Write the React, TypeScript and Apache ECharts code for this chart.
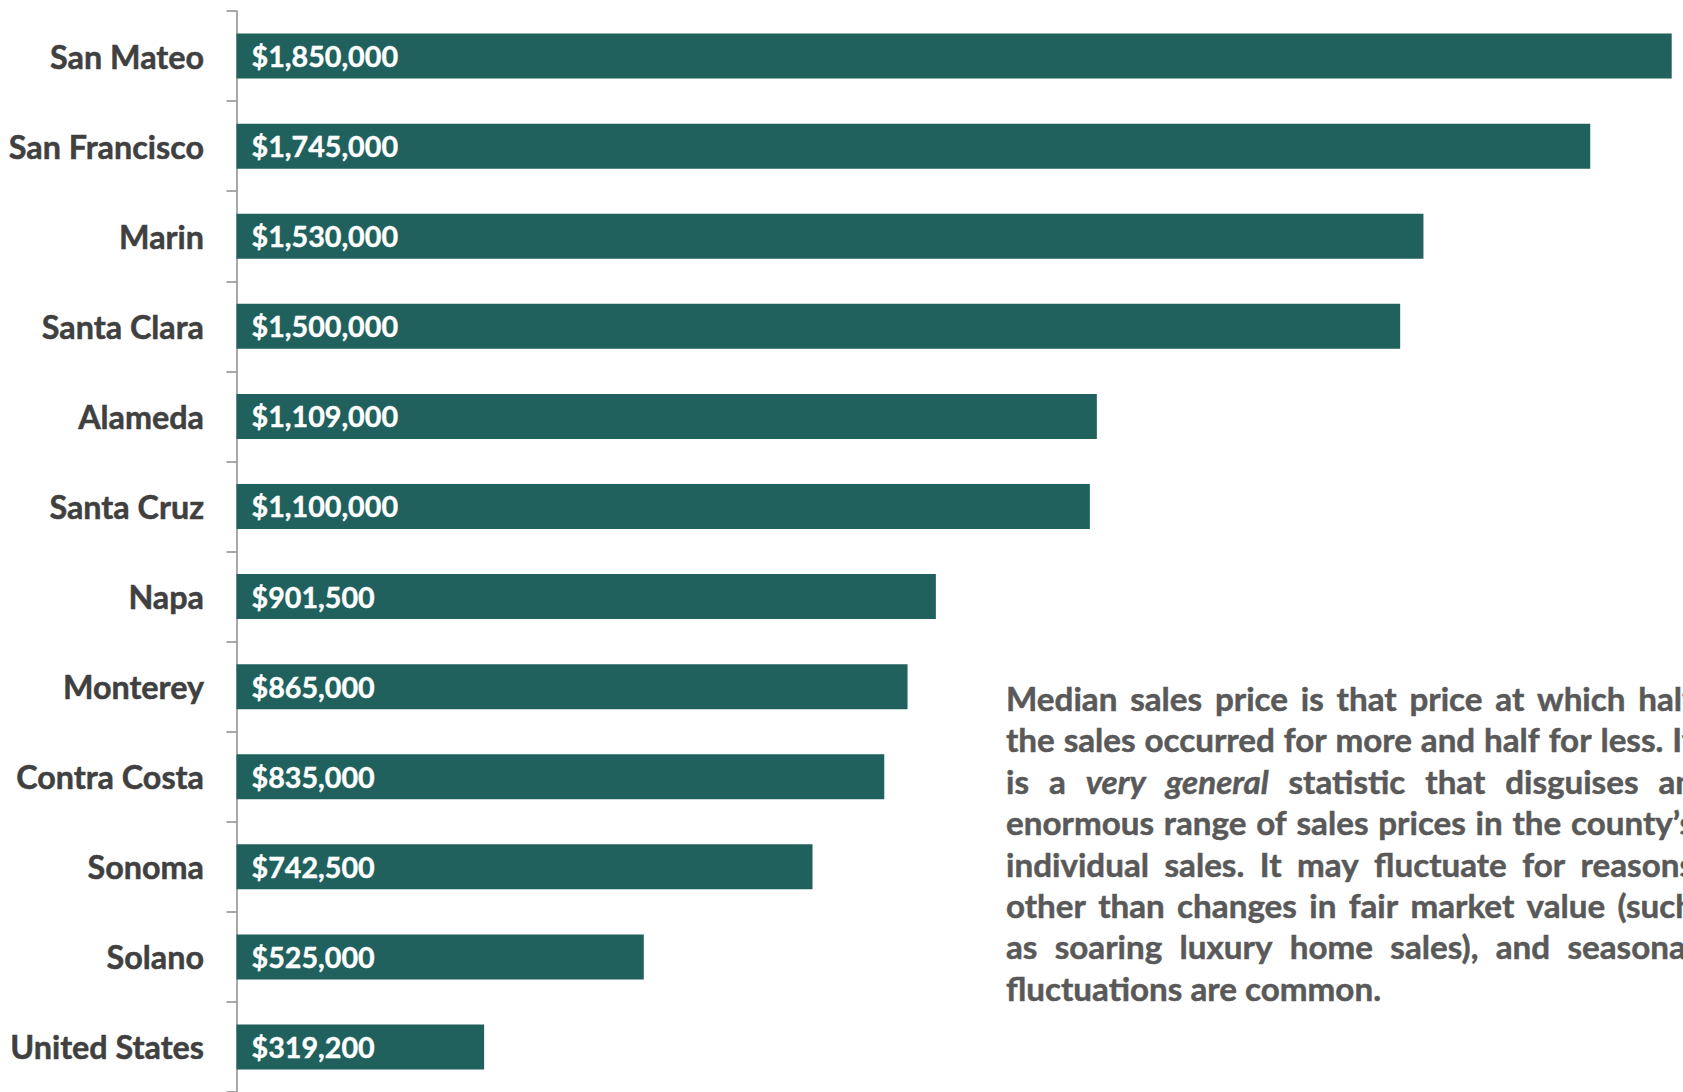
import React, { useEffect, useRef } from "react";
import * as echarts from "echarts";

const categories = [
  "San Mateo",
  "San Francisco",
  "Marin",
  "Santa Clara",
  "Alameda",
  "Santa Cruz",
  "Napa",
  "Monterey",
  "Contra Costa",
  "Sonoma",
  "Solano",
  "United States",
];

const medianPrices = [
  1850000, 1745000, 1530000, 1500000, 1109000, 1100000, 901500, 865000, 835000,
  742500, 525000, 319200,
];

const noteLines = [
  "Median sales price is that price at which half",
  "the sales occurred for more and half for less. It",
  "is a very general statistic that disguises an",
  "enormous range of sales prices in the county\u2019s",
  "individual sales. It may fluctuate for reasons",
  "other than changes in fair market value (such",
  "as soaring luxury home sales), and seasonal",
  "fluctuations are common.",
];

const italicWords = ["very", "general"];

const FONT = "Lato";
const BAR_COLOR = "#20615E";
const LABEL_COLOR = "#404040";
const NOTE_COLOR = "#595959";
const AXIS_COLOR = "#8C8C8C";

const CAT_FS = 32.3;
const VAL_FS = 28.7;
const NOTE_FS = 33.2;

const NOTE_LEFT = 1006;
const NOTE_WIDTH = 688;
const NOTE_TOP = 698;
const NOTE_LINE_H = 41.4;

function formatPrice(v: number) {
  return "$" + v.toLocaleString("en-US");
}

function buildNote() {
  const canvas = document.createElement("canvas");
  const ctx = canvas.getContext("2d")!;
  const measure = (t: string, italic: boolean) => {
    ctx.font = `${italic ? "italic " : ""}bold ${NOTE_FS}px ${FONT}`;
    return ctx.measureText(t).width;
  };
  const els: any[] = [];
  noteLines.forEach((line, i) => {
    const words = line.split(" ");
    const widths = words.map((w) => measure(w, italicWords.includes(w)));
    const total = widths.reduce((a, b) => a + b, 0);
    const last = i === noteLines.length - 1;
    const gap = last
      ? measure(" ", false)
      : (NOTE_WIDTH - total) / Math.max(1, words.length - 1);
    let x = 0;
    words.forEach((w, j) => {
      const it = italicWords.includes(w);
      els.push({
        type: "text",
        x: NOTE_LEFT + x,
        y: NOTE_TOP + i * NOTE_LINE_H,
        silent: true,
        style: {
          text: w,
          fill: NOTE_COLOR,
          stroke: NOTE_COLOR,
          lineWidth: 0.5,
          fontFamily: FONT,
          fontSize: NOTE_FS,
          fontWeight: "bold",
          fontStyle: it ? "italic" : "normal",
          align: "left",
          verticalAlign: "middle",
          textAlign: "left",
          textVerticalAlign: "middle",
        },
      });
      x += widths[j] + gap;
    });
  });
  return els;
}

export default function App() {
  const ref = useRef<HTMLDivElement>(null);
  useEffect(() => {
    if (!ref.current) return;
    const chart = echarts.init(ref.current, null, { renderer: "svg" });
    const bandH = 90.4;
    chart.setOption({
      animation: false,
      backgroundColor: "#ffffff",
      grid: {
        left: 236.5,
        top: 11,
        width: 1435.2,
        height: bandH * categories.length,
        containLabel: false,
      },
      xAxis: {
        type: "value",
        min: 0,
        max: 1850000,
        show: false,
      },
      yAxis: {
        type: "category",
        inverse: true,
        data: categories,
        axisLine: { show: true, lineStyle: { color: AXIS_COLOR, width: 1.5 } },
        axisTick: { show: true, length: 10, lineStyle: { color: AXIS_COLOR, width: 1.5 } },
        axisLabel: {
          margin: 32.5,
          color: LABEL_COLOR,
          fontFamily: FONT,
          fontSize: CAT_FS,
          fontWeight: "bold",
          textBorderColor: LABEL_COLOR,
          textBorderWidth: 0.5,
        },
        splitLine: { show: false },
      },
      series: [
        {
          type: "bar",
          data: medianPrices,
          barWidth: 45,
          itemStyle: { color: BAR_COLOR },
          label: {
            show: true,
            position: "insideLeft",
            distance: 15,
            color: "#ffffff",
            fontFamily: FONT,
            fontSize: VAL_FS,
            fontWeight: "bold",
            textBorderColor: "#ffffff",
            textBorderWidth: 0.4,
            formatter: (p: any) => formatPrice(p.value),
          },
        },
      ],
      graphic: buildNote(),
    });
    return () => chart.dispose();
  }, []);
  return (
    <div
      ref={ref}
      style={{ position: "fixed", left: 0, top: 0, width: 1683, height: 1092 }}
    />
  );
}
